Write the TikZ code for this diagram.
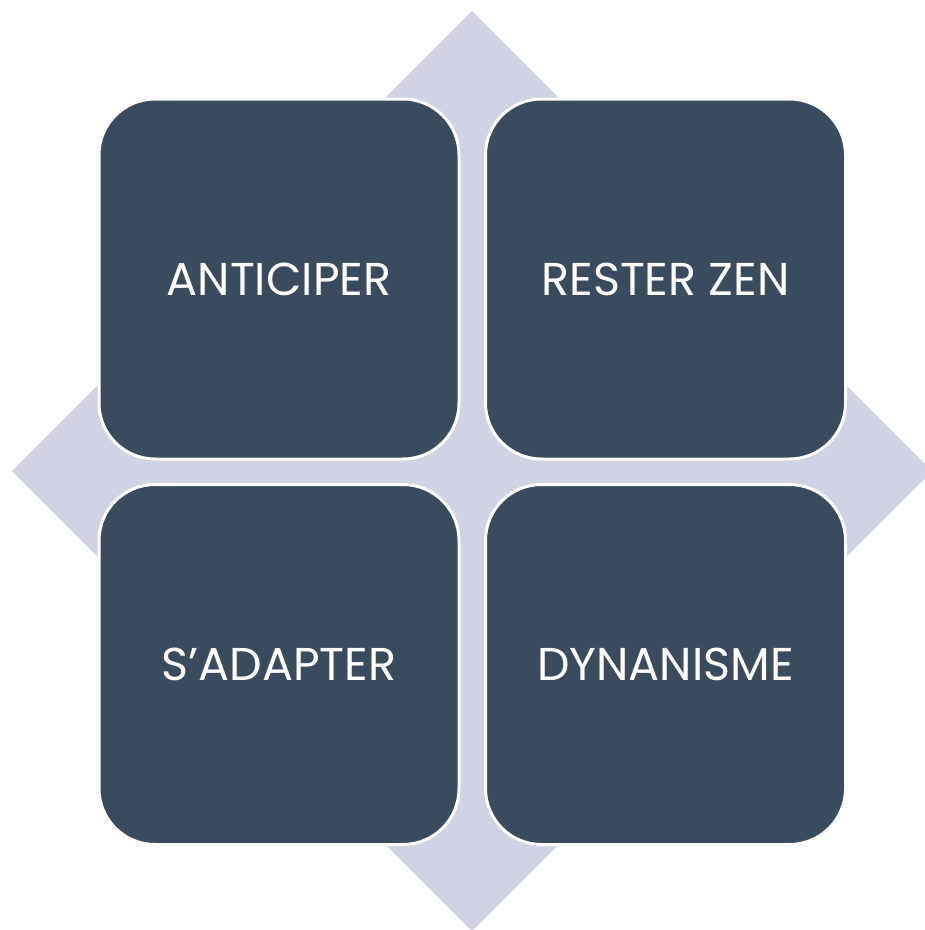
\documentclass[tikz,border=0pt]{standalone}
\usepackage{fontspec}
\setmainfont{Poppins}
\definecolor{boxfill}{HTML}{3B4B5E}
\definecolor{diamondfill}{HTML}{CFD3E4}
\begin{document}
\begin{tikzpicture}[x=1pt,y=-1pt,
  quad/.style={draw=white, line width=3pt, fill=boxfill, rounded corners=56pt,
    minimum width=360pt, minimum height=360pt, inner sep=0pt, text=white,
    font=\fontsize{46}{54}\selectfont}]
\useasboundingbox (0,0) rectangle (925,930);
\clip (0,0) rectangle (925,930);
\fill[diamondfill] (472,11) -- (932,471) -- (472,931) -- (12,471) -- cycle;
\node[quad] (tl) at (279,279) {ANTICIPER};
\node[quad] (tr) at (665.5,279) {RESTER ZEN};
\node[quad] (bl) at (279,664.5) {S’ADAPTER};
\node[quad] (br) at (665.5,664.5) {DYNANISME};
\end{tikzpicture}
\end{document}
